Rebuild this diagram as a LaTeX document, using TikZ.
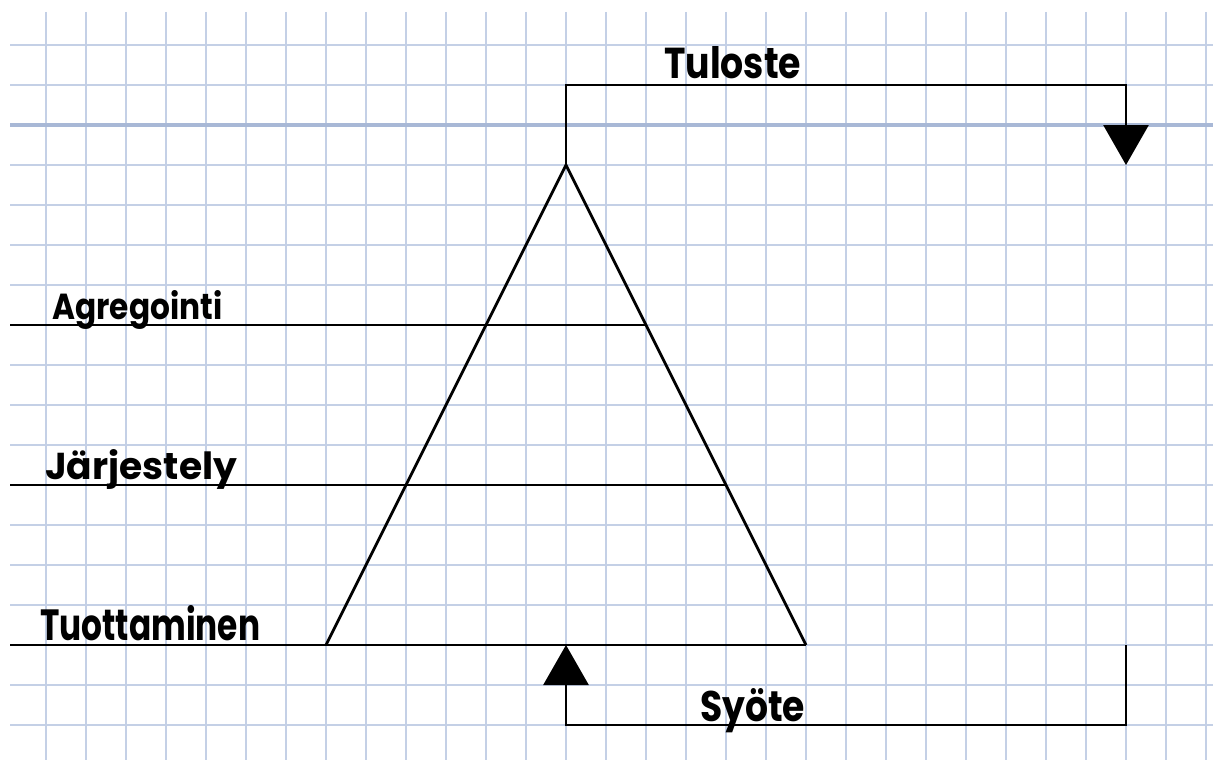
\documentclass[tikz,border=0pt]{standalone}
\usepackage{fontspec}
\setmainfont{Poppins}
\usetikzlibrary{arrows.meta}
\newcommand{\hw}[3]{\resizebox{#1}{#2}{\bfseries #3}}
\definecolor{gridblue}{RGB}{196,208,230}
\definecolor{gridmajorblue}{RGB}{168,184,214}
\tikzset{
  gridline/.style={draw=gridblue, line width=1.3pt},
  gridmajor/.style={draw=gridmajorblue, line width=3.2pt},
  ink/.style={draw=black, line width=2.8pt},
  flow/.style={ink, -{Triangle[length=40pt,width=45pt]}},
  lbl/.style={anchor=base west, inner sep=0pt, text=black}
}
\begin{document}
\begin{tikzpicture}[x=1pt,y=-1pt]
\useasboundingbox (0,0) rectangle (1213,760);
\fill[white] (0,0) rectangle (1213,760);
% grid
\foreach \gx in {46,86,...,1206} \draw[gridline] (\gx,12) -- (\gx,760);
\foreach \gy in {45,85,...,725} \draw[gridline] (10,\gy) -- (1213,\gy);
\draw[gridmajor] (10,125) -- (1213,125);
% coordinates
\coordinate (apex) at (566,165);
\coordinate (baseL) at (326,645);
\coordinate (baseR) at (806,645);
\coordinate (aggL) at (10,325);
\coordinate (aggR) at (646,325);
\coordinate (jarL) at (10,485);
\coordinate (jarR) at (726,485);
\coordinate (tuoL) at (10,645);
\coordinate (outEnd) at (1126,165);
\coordinate (inStart) at (1126,645);
\coordinate (inEnd) at (566,645);
% triangle and levels
\draw[ink, line join=miter] (baseL) -- (apex) -- (baseR);
\draw[ink] (aggL) -- (aggR);
\draw[ink] (jarL) -- (jarR);
\draw[ink] (tuoL) -- (baseR);
% output / input loops
\draw[flow] (apex) -- ++(0,-80) -| (outEnd);
\draw[flow] (inStart) -- ++(0,80) -| (inEnd);
% labels
\node[lbl] (tuloste) at (664,78) {\hw{137pt}{32pt}{Tuloste}};
\node[lbl] (syote) at (700,721) {\hw{105pt}{33pt}{Syöte}};
\node[lbl] (agreg) at (52,319) {\hw{170pt}{29pt}{Agregointi}};
\node[lbl] (jarj) at (45,479) {\hw{192pt}{30pt}{Järjestely}};
\node[lbl] (tuott) at (40,640) {\hw{220pt}{35pt}{Tuottaminen}};
\end{tikzpicture}
\end{document}
